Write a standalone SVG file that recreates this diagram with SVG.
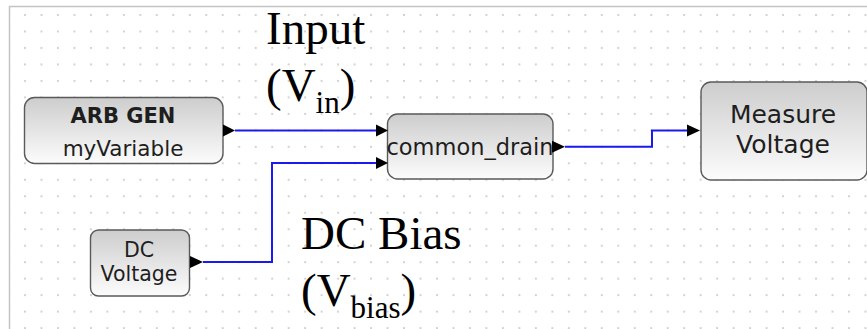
<svg xmlns="http://www.w3.org/2000/svg" width="867" height="329" viewBox="0 0 867 329">
  <defs>
    <pattern id="grid" x="24" y="14" width="16.48" height="16.48" patternUnits="userSpaceOnUse">
      <rect x="0" y="0" width="2" height="2" fill="#d2d2d2"/>
    </pattern>
    <linearGradient id="nodeFill" x1="0" y1="0" x2="0" y2="1">
      <stop offset="0" stop-color="#cdcdcd"/>
      <stop offset="1" stop-color="#fcfcfc"/>
    </linearGradient>
    <style>
      .node { fill: url(#nodeFill); stroke: #5a5a5a; stroke-width: 1.4; }
      .lbl { font-family: "DejaVu Sans", sans-serif; fill: #1e1e1e; text-anchor: middle; }
      .bold { font-weight: bold; }
      .wire { fill: none; stroke: #1a1af0; stroke-width: 2; }
      .port { fill: #000; }
      .big { font-family: "Liberation Serif", "Times New Roman", serif; font-size: 47px; fill: #000; }
      .sub { font-size: 31px; }
    </style>
  </defs>

  <rect x="0" y="0" width="867" height="329" fill="#ffffff"/>
  <rect x="9" y="6" width="858" height="323" fill="url(#grid)"/>
  <path d="M9.5 329 V6.5 H867" fill="none" stroke="#c4c4c4" stroke-width="1.5"/>

  <g id="connectors">
    <path class="wire" d="M235 130.5 H376"/>
    <path class="wire" d="M203 262 H272 V163 H376"/>
    <path class="wire" d="M565 146.7 H652 V130.5 H688"/>
  </g>

  <g id="arb_gen">
    <rect class="node" x="24.5" y="97.5" width="198.5" height="66" rx="10" ry="10"/>
    <text class="lbl bold" x="123" y="123" font-size="21">ARB GEN</text>
    <text class="lbl" x="123" y="156" font-size="21.5">myVariable</text>
    <polygon class="port" points="223,124.5 235,130.5 223,136.5"/>
  </g>

  <g id="dc_voltage">
    <rect class="node" x="90.5" y="230" width="99" height="66" rx="8" ry="8"/>
    <text class="lbl" x="139" y="257" font-size="20.5">DC</text>
    <text class="lbl" x="139" y="281" font-size="20.5">Voltage</text>
    <polygon class="port" points="190,256 203,262 190,268"/>
  </g>

  <g id="common_drain">
    <rect class="node" x="387.5" y="114" width="165.5" height="65" rx="10" ry="10"/>
    <text class="lbl" x="470" y="155" font-size="22.5">common_drain</text>
    <polygon class="port" points="376,124.5 388,130.5 376,136.5"/>
    <polygon class="port" points="376,157 388,163 376,169"/>
    <polygon class="port" points="552,140.7 565,146.7 552,152.7"/>
  </g>

  <g id="measure_voltage">
    <rect class="node" x="701" y="82" width="166" height="98" rx="10" ry="10"/>
    <text class="lbl" x="783" y="123" font-size="25">Measure</text>
    <text class="lbl" x="783" y="153" font-size="25">Voltage</text>
    <polygon class="port" points="687,124.5 700,130.5 687,136.5"/>
  </g>

  <g id="label_input">
    <text class="big" x="266" y="44">Input</text>
    <text class="big" x="266" y="101">(V<tspan class="sub" dy="12">in</tspan><tspan dy="-12">)</tspan></text>
  </g>

  <g id="label_bias">
    <text class="big" x="301" y="249">DC Bias</text>
    <text class="big" x="301" y="306">(V<tspan class="sub" dy="12">bias</tspan><tspan dy="-12">)</tspan></text>
  </g>
</svg>
